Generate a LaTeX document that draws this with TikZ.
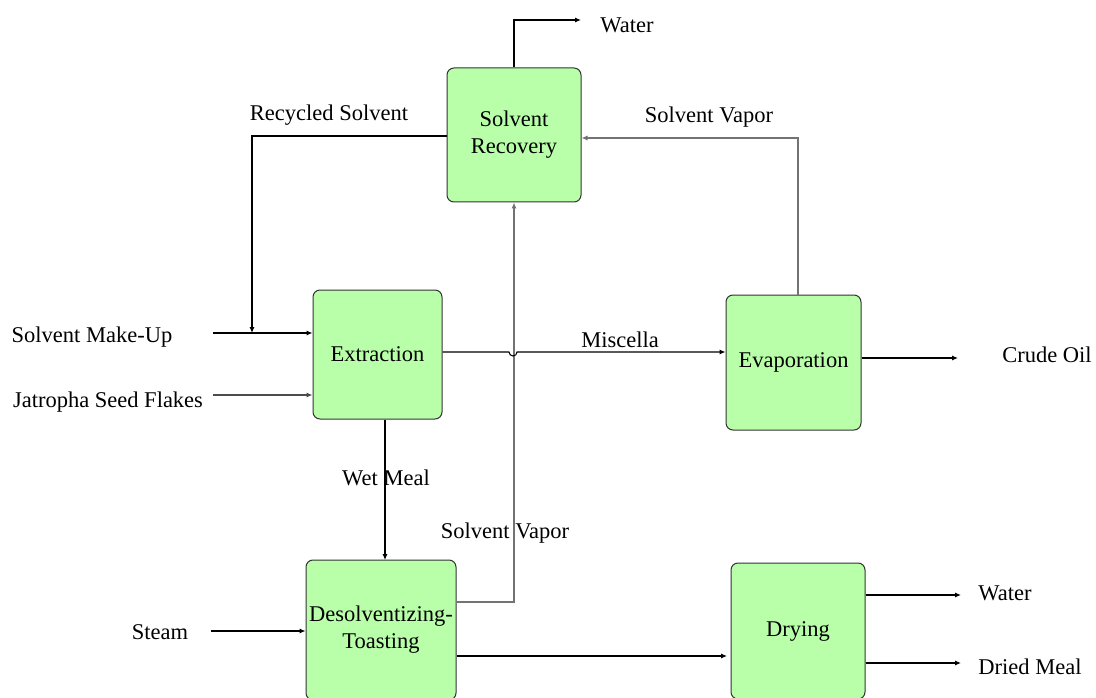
\documentclass[tikz,border=0pt]{standalone}
\usepackage{fontspec}
\setmainfont{Liberation Serif}
\usetikzlibrary{arrows.meta}
\begin{document}
\begin{tikzpicture}[x=1pt,y=-1pt,
  unit/.style={draw=black!80, line width=1pt, fill=unitgreen, rounded corners=7pt,
    inner sep=0pt, align=center, font=\fontsize{22.5}{27}\selectfont},
  lbl/.style={font=\fontsize{22.5}{27}\selectfont, inner sep=0pt},
  flow/.style={line width=1.05pt, -{Latex[length=6pt,width=5pt]}},
  vapor/.style={draw=black!55}]
\definecolor{unitgreen}{RGB}{185,255,170}
\useasboundingbox (0,0) rectangle (1096,698);

% process units
\node[unit, minimum width=134pt, minimum height=134pt] (rec) at (514,135) {Solvent\\Recovery};
\node[unit, minimum width=129pt, minimum height=129pt] (ext) at (377.5,354.5) {Extraction};
\node[unit, minimum width=135pt, minimum height=135pt] (eva) at (793.5,362.5) {Evaporation};
\node[unit, minimum width=150pt, minimum height=140pt] (dt) at (381,630) {Desolventizing-\\Toasting};
\node[unit, minimum width=134pt, minimum height=136pt] (dry) at (798,631) {Drying};

% stream labels
\node[lbl] (lwater1) at (627,25) {Water};
\node[lbl] (lrecyc) at (329,115) {Recycled Solvent};
\node[lbl] (lvap1) at (709,117) {Solvent Vapor};
\node[lbl] (lmake) at (92,337) {Solvent Make-Up};
\node[lbl] (lseed) at (108,402) {Jatropha Seed Flakes};
\node[lbl] (lmisc) at (620,340) {Miscella};
\node[lbl] (lcrude) at (1047,355) {Crude Oil};
\node[lbl] (lwet) at (386,478) {Wet Meal};
\node[lbl] (lvap2) at (505,533) {Solvent Vapor};
\node[lbl] (lsteam) at (160,632) {Steam};
\node[lbl] (lwater2) at (1005,593) {Water};
\node[lbl] (ldried) at (1030,667) {Dried Meal};

% free ends of the feed and product streams
\coordinate (watertop) at (581,20);
\coordinate (makein) at (213,333);
\coordinate (seedin) at (213,395);
\coordinate (crudeout) at (958,358);
\coordinate (steamin) at (211,631);
\coordinate (water2out) at (961,595);
\coordinate (driedout) at (961,663);

% water off the top of the recovery unit
\draw[flow] (rec.north) |- (watertop);

% recycled solvent back to the make-up line
\draw[flow] (rec.west |- 0,136) -| (252,333);

% solvent vapor from evaporation to recovery
\draw[flow, vapor] (eva.north -| 798,0) |- (rec.east |- 0,138);

% feeds into extraction
\draw[flow] (makein) -- (makein -| ext.west);
\draw[flow, draw=black!70] (seedin) -- (seedin -| ext.west);

% solvent vapor from desolventizer-toaster up to recovery
\draw[flow, vapor] (dt.east |- 0,602) -| (rec.south);

% miscella, hopping over the vapor line
\draw[flow] (ext.east |- 0,352) -- (509,352) arc[start angle=180, end angle=0, radius=4] -- (eva.west |- 0,352);

% crude oil out
\draw[flow] (eva.east |- crudeout) -- (crudeout);

% wet meal down to the desolventizer-toaster
\draw[flow] (385,419.5) -- (385,560);

% steam in
\draw[flow] (steamin) -- (steamin -| dt.west);

% toasted meal to drying
\draw[flow] (dt.east |- 0,656) -- (727,656);

% drying products
\draw[flow] (dry.east |- water2out) -- (water2out);
\draw[flow] (dry.east |- driedout) -- (driedout);
\end{tikzpicture}
\end{document}
